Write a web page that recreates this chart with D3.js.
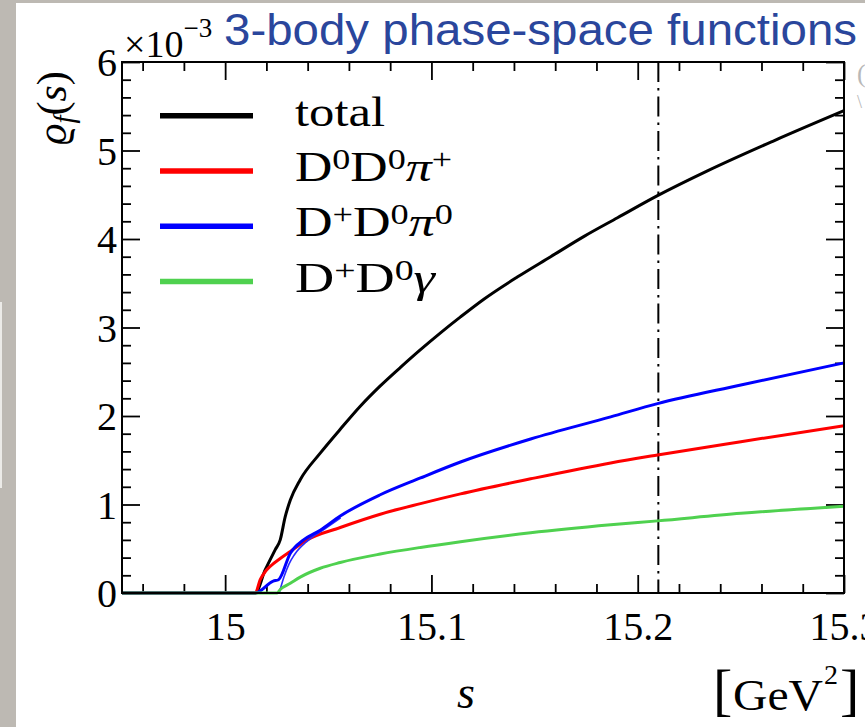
<!DOCTYPE html>
<html>
<head>
<meta charset="utf-8">
<script src="https://cdn.jsdelivr.net/npm/d3@7"></script>
<style>
  body { margin: 0; background: #fff; }
  svg { display: block; }
  text { font-family: "Liberation Serif", "DejaVu Serif", serif; fill: #000; }
</style>
</head>
<body>
<div id="chart"></div>
<script>
// values, in units of 10^-3
var totalS = [14.95, 15.0146, 15.0194, 15.0243, 15.0267, 15.0291, 15.0316, 15.0364, 15.0461, 15.0558, 15.0655, 15.0752, 15.085, 15.0947, 15.1044, 15.1141, 15.1254, 15.1416, 15.1578, 15.174, 15.1902, 15.2096, 15.2338, 15.266, 15.3];
var totalV = [0, 0, 0.26, 0.49, 0.60, 0.86, 1.05, 1.28, 1.58, 1.85, 2.11, 2.34, 2.55, 2.75, 2.94, 3.12, 3.32, 3.57, 3.80, 4.03, 4.24, 4.49, 4.77, 5.11, 5.45];

var redS = [14.95, 15.0146, 15.017, 15.0194, 15.0218, 15.0267, 15.0316, 15.0397, 15.0558, 15.0752, 15.0947, 15.1141, 15.1481, 15.1869, 15.2096, 15.25, 15.3];
var redV = [0, 0, 0.15, 0.24, 0.30, 0.39, 0.47, 0.60, 0.74, 0.89, 1.01, 1.12, 1.29, 1.47, 1.56, 1.71, 1.89];

var blueS = [14.95, 15.0146, 15.0233, 15.0259, 15.0316, 15.038, 15.0461, 15.0558, 15.0752, 15.0947, 15.1141, 15.1481, 15.1869, 15.2096, 15.25, 15.3];
var blueV = [0, 0, 0.135, 0.15, 0.45, 0.60, 0.71, 0.87, 1.11, 1.30, 1.48, 1.74, 1.99, 2.14, 2.35, 2.60];

// second faint blue trace near threshold
var blue2S = [15.0262, 15.0285, 15.031, 15.0335, 15.04, 15.048, 15.056];
var blue2V = [0, 0.18, 0.33, 0.43, 0.59, 0.72, 0.85];

var greenS = [14.95, 15.0252, 15.0267, 15.0316, 15.0364, 15.0461, 15.0558, 15.0752, 15.0947, 15.1141, 15.1481, 15.1869, 15.2096, 15.25, 15.3];
var greenV = [0, 0, 0.04, 0.11, 0.18, 0.28, 0.345, 0.44, 0.515, 0.58, 0.68, 0.77, 0.815, 0.90, 0.98];

var xTicks = [15, 15.1, 15.2, 15.3];
var xTickLabels = ["15", "15.1", "15.2", "15.3"];
var yTicks = [0, 1, 2, 3, 4, 5, 6];
var markerS = 15.21;

var width = 865, height = 727;
var margin = {top: 62, right: 21, bottom: 134, left: 122};

var svg = d3.select('#chart').append('svg')
    .attr('width', width)
    .attr('height', height);

// slide background
svg.append('rect').attr('width', width).attr('height', height).attr('fill', '#bdb9b3');
svg.append('rect').attr('x', 16).attr('y', 3).attr('width', width - 16).attr('height', height - 3).attr('fill', '#fff');
svg.append('rect').attr('x', 0).attr('y', 302).attr('width', 2).attr('height', 186).attr('fill', '#ecebe8');

var xScale = d3.scaleLinear()
    .domain([14.95, 15.3])
    .range([margin.left, width - margin.right]);

var yScale = d3.scaleLinear()
    .domain([0, 6])
    .range([height - margin.bottom, margin.top]);

var x0 = xScale.range()[0], x1 = xScale.range()[1];
var y0 = yScale.range()[0], y1 = yScale.range()[1];

var xMinor = d3.range(14.96, 15.3, 0.02).filter(function(v) {
  return xTicks.every(function(t) { return Math.abs(t - v) > 1e-6; });
});
var yMinor = d3.range(0.2, 6, 0.2).filter(function(v) {
  return yTicks.every(function(t) { return Math.abs(t - v) > 1e-6; });
});

function styleAxis(g) {
  g.select('.domain').remove();
  g.selectAll('line').attr('stroke', '#000').attr('stroke-width', 1.8);
}

// bottom + top
svg.append('g').attr('transform', `translate(0,${y0})`)
    .call(d3.axisBottom(xScale).tickValues(xMinor).tickSize(-9).tickFormat(''))
    .call(styleAxis);
svg.append('g').attr('transform', `translate(0,${y0})`)
    .call(d3.axisBottom(xScale).tickValues(xTicks).tickSize(-18).tickPadding(19)
      .tickFormat(function(d, i) { return xTickLabels[i]; }))
    .call(styleAxis)
    .selectAll('text')
      .style('font-size', '40px')
      .style('font-family', '"Liberation Serif", serif');
svg.append('g').attr('transform', `translate(0,${y1})`)
    .call(d3.axisTop(xScale).tickValues(xMinor).tickSize(-9).tickFormat(''))
    .call(styleAxis);
svg.append('g').attr('transform', `translate(0,${y1})`)
    .call(d3.axisTop(xScale).tickValues(xTicks).tickSize(-18).tickFormat(''))
    .call(styleAxis);

// left + right
svg.append('g').attr('transform', `translate(${x0},0)`)
    .call(d3.axisLeft(yScale).tickValues(yMinor).tickSize(-9).tickFormat(''))
    .call(styleAxis);
svg.append('g').attr('transform', `translate(${x0},0)`)
    .call(d3.axisLeft(yScale).tickValues(yTicks).tickSize(-18).tickPadding(5).tickFormat(d3.format('d')))
    .call(styleAxis)
    .selectAll('text')
      .style('font-size', '40px')
      .style('font-family', '"Liberation Serif", serif')
      .attr('dy', '0.34em');
svg.append('g').attr('transform', `translate(${x1},0)`)
    .call(d3.axisRight(yScale).tickValues(yMinor).tickSize(-9).tickFormat(''))
    .call(styleAxis);
svg.append('g').attr('transform', `translate(${x1},0)`)
    .call(d3.axisRight(yScale).tickValues(yTicks).tickSize(-18).tickFormat(''))
    .call(styleAxis);

// dash-dot marker
svg.append('line')
    .attr('x1', xScale(markerS)).attr('x2', xScale(markerS))
    .attr('y1', y1).attr('y2', y0)
    .attr('stroke', '#000')
    .attr('stroke-width', 2)
    .attr('stroke-dasharray', '20,6,2.5,6');

var line = d3.line()
    .x(function(d) { return xScale(d[0]); })
    .y(function(d) { return yScale(d[1]); })
    .curve(d3.curveMonotoneX);

function pairs(s, v) { return s.map(function(d, i) { return [d, v[i]]; }); }

var series = [
  {s: totalS, v: totalV, color: '#000000', w: 3},
  {s: redS, v: redV, color: '#ff0000', w: 3},
  {s: blue2S, v: blue2V, color: '#2a2aff', w: 1.6},
  {s: blueS, v: blueV, color: '#0000ff', w: 3},
  {s: greenS, v: greenV, color: '#4fd14f', w: 3}
];

svg.selectAll('.curve')
    .data(series)
    .enter()
    .append('path')
    .attr('class', 'curve')
    .attr('d', function(d) { return line(pairs(d.s, d.v)); })
    .attr('fill', 'none')
    .attr('stroke', function(d) { return d.color; })
    .attr('stroke-width', function(d) { return d.w; })
    .attr('stroke-linejoin', 'round');

// frame
svg.append('rect')
    .attr('x', x0).attr('y', y1)
    .attr('width', x1 - x0).attr('height', y0 - y1)
    .attr('fill', 'none')
    .attr('stroke', '#000')
    .attr('stroke-width', 2);

// legend
var legend = [
  {color: '#000000', len: 90, parts: [['total', 0]]},
  {color: '#ff0000', len: 157, parts: [['D', 0], ['0', 1], ['D', 0], ['0', 1], ['π', 0, 'italic'], ['+', 1]]},
  {color: '#0000ff', len: 158, parts: [['D', 0], ['+', 1], ['D', 0], ['0', 1], ['π', 0, 'italic'], ['0', 1]]},
  {color: '#4fd14f', len: 140, parts: [['D', 0], ['+', 1], ['D', 0], ['0', 1], ['γ', 0, 'italic']]}
];

var lg = svg.append('g');
legend.forEach(function(item, i) {
  var ly = 115.7 + i * 55.3;
  lg.append('line')
    .attr('x1', 160).attr('x2', 253)
    .attr('y1', ly).attr('y2', ly)
    .attr('stroke', item.color)
    .attr('stroke-width', 5.5);
  var t = lg.append('text')
    .attr('x', 295).attr('y', ly + 10)
    .attr('textLength', item.len)
    .attr('lengthAdjust', 'spacingAndGlyphs')
    .style('font-size', '43px');
  var up = false;
  item.parts.forEach(function(p) {
    var ts = t.append('tspan').text(p[0]);
    if (p[1] === 1) {
      ts.style('font-size', '30px').attr('dy', up ? 0 : -12);
      up = true;
    } else {
      ts.attr('dy', up ? 12 : 0);
      up = false;
    }
    if (p[2] === 'italic') ts.style('font-style', 'italic');
  });
});

// exponent label
var ex = svg.append('text').attr('x', 124).attr('y', 57).style('font-size', '38px');
ex.append('tspan').text('×10');
ex.append('tspan').text('−3').style('font-size', '27px').attr('dy', -20);

// y label
var yl = svg.append('text')
    .attr('transform', 'translate(66,108) rotate(-90)')
    .attr('text-anchor', 'middle')
    .style('font-size', '42px');
yl.append('tspan').text('ϱ').style('font-style', 'italic');
yl.append('tspan').text('f').style('font-style', 'italic').style('font-size', '29px').attr('dy', 8);
yl.append('tspan').text('(').attr('dy', -8);
yl.append('tspan').text('s').style('font-style', 'italic');
yl.append('tspan').text(')');

// x label
svg.append('text')
    .attr('x', 466).attr('y', 708)
    .attr('text-anchor', 'middle')
    .style('font-size', '46px')
    .style('font-style', 'italic')
    .text('s');

// unit [GeV^2]
svg.append('text').attr('x', 713).attr('y', 709).style('font-size', '58px').text('[');
svg.append('text').attr('x', 733).attr('y', 710)
    .attr('textLength', 90).attr('lengthAdjust', 'spacingAndGlyphs')
    .style('font-size', '44px').text('GeV');
svg.append('text').attr('x', 824).attr('y', 684).style('font-size', '28px').text('2');
svg.append('text').attr('x', 840).attr('y', 709).style('font-size', '58px').text(']');

// title
svg.append('text')
    .attr('x', 224).attr('y', 45)
    .attr('textLength', 633)
    .attr('lengthAdjust', 'spacingAndGlyphs')
    .style('font-family', '"Liberation Sans", Arial, sans-serif')
    .style('font-size', '44px')
    .style('fill', '#2a469c')
    .text('3-body phase-space functions');

// clipped glyphs of the next slide at the right edge
svg.append('text').attr('x', 857).attr('y', 82).style('font-size', '26px').style('fill', '#b8b8b8').text('(');
svg.append('text').attr('x', 857).attr('y', 108).style('font-size', '18px').style('fill', '#b8b8b8').text('\\');
</script>
</body>
</html>
